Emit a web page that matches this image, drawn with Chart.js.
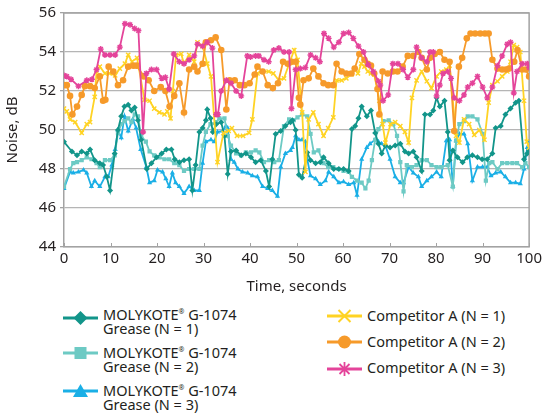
<!DOCTYPE html>
<html>
<head>
<meta charset="utf-8">
<script src="https://cdn.jsdelivr.net/npm/chart.js@4"></script>
<style>
  html, body { margin: 0; padding: 0; background: #fff; }
  #wrap { position: relative; width: 545px; height: 417px; font-family: "Noto Sans", "Open Sans", sans-serif; color: #231f20; }
  #chartBox { position: absolute; left: 0; top: 0; width: 545px; height: 300px; }
  .item { position: absolute; display: flex; align-items: flex-start; }
  .item svg { position: absolute; }
  .lbl { position: absolute; font-size: 14.5px; line-height: 14px; white-space: nowrap; }
  .lbl sup { font-size: 7px; vertical-align: 6px; line-height: 0; }
</style>
</head>
<body>
<div id="wrap">
  <div id="chartBox"><canvas id="c" width="545" height="300"></canvas></div>
</div>
<script>
// ---------- DATA ----------
const seriesNames = [
  "MOLYKOTE® G-1074 Grease (N = 1)",
  "MOLYKOTE® G-1074 Grease (N = 2)",
  "MOLYKOTE® G-1074 Grease (N = 3)",
  "Competitor A (N = 1)",
  "Competitor A (N = 2)",
  "Competitor A (N = 3)"
];
const xTickValues = [0, 10, 20, 30, 40, 50, 60, 70, 80, 90, 100];
const yTickValues = [44, 46, 48, 50, 52, 54, 56];

const m1Time  = [0,1.7,2.8,3.8,4.9,5.6,6.6,7.7,8.4,9.2,9.9,10.9,11.6,12.3,13,13.8,14.5,15.2,15.9,16.6,17.8,18.8,19.9,21,22,23.1,23.8,24.8,25.8,26.9,27.6,28.3,29.1,29.8,30.5,30.8,31.5,32,32.7,33.8,34.5,35.2,35.9,37,38.1,39.1,40.2,41.2,42.3,43.4,44.1,44.8,45.5,46.6,47.6,48.7,49.1,49.8,50.5,51.2,52.3,53,54.1,55.1,55.8,56.9,58,59.1,60.1,61.2,61.9,62.6,63.3,64,65.1,66,66.9,67.6,68.3,69.1,70.1,71.2,72.3,73.3,74.1,75.1,75.8,76.9,77.6,78.7,79.4,80.1,80.8,81.8,82.5,82.9,83.6,84.6,85.7,86.7,87.8,88.9,89.9,91,92.1,92.8,93.9,94.9,96,97.1,97.8,98.9,99.6,100];
const m1Noise = [49.4,48.9,48.7,48.9,48.8,49.0,48.45,48.3,48.2,47.6,46.9,48.8,50.0,50.7,51.2,51.3,51.0,51.15,50.5,49.5,48.0,48.3,48.6,48.8,49.0,49.0,48.5,48.35,48.45,48.5,46.9,48.2,49.9,50.1,50.5,51.05,50.6,49.9,50.3,50.4,49.7,47.75,48.9,48.95,48.7,48.8,48.6,48.35,48.45,47.9,47.1,48.5,49.8,49.95,50.2,50.4,50.5,50.0,47.7,47.55,48.85,48.45,48.3,48.35,48.6,48.3,48.0,48.0,48.0,47.9,50.05,50.2,50.6,51.2,50.7,51.0,49.85,49.3,48.8,49.2,49.1,49.2,49.3,48.9,48.8,48.9,48.6,47.9,50.8,50.8,51.0,51.65,51.2,51.5,49.9,48.45,48.95,48.6,48.35,48.6,48.7,48.6,48.5,48.5,48.8,50.1,50.2,50.8,51.1,51.4,51.5,48.5,48.8,48.95];

const m2Time  = [0,1.3,2,2.8,3.8,4.9,5.9,7,7.7,8.8,9.9,10.9,11.6,12.3,13,13.8,14.5,15.2,15.9,16.6,17.6,18.4,19.4,20.5,21.6,22.6,23.7,24.8,25.8,26.9,28,29.1,29.8,30.5,31.5,32.7,33.4,34.5,35.2,35.9,37,38.1,39.1,40.2,41.2,42,43,44.1,45.2,46.2,47.3,48.4,49.4,50.2,51.2,52.3,53,53.7,54.7,55.8,56.8,57.9,59,60.1,61.2,61.9,63,64,64.8,65.5,66.2,66.9,67.6,68.7,69.8,70.8,71.6,72.3,73,73.7,74.8,75.8,76.9,78,79,80.1,81.1,82.5,83.6,84.3,85,86,86.8,87.8,88.9,90,90.7,91.4,92.1,93.2,94.2,95.3,96.4,97.4,98.5,99.2,100];
const m2Noise = [47.1,48.0,48.3,48.35,48.45,48.6,48.5,48.3,48.1,48.45,48.45,48.7,49.85,50.3,50.45,50.6,50.4,50.8,50.7,49.7,49.4,48.9,48.7,48.6,48.5,48.5,48.3,48.2,47.9,48.0,48.0,48.0,49.2,49.9,50.3,50.4,50.6,50.6,49.7,49.2,48.8,48.7,48.85,48.85,48.95,48.85,48.35,48.45,48.35,48.45,50.2,50.55,50.5,50.65,50.8,50.7,49.8,48.85,48.95,48.3,48.1,48.1,48.0,47.9,47.85,47.6,47.4,47.3,47.0,47.4,48.45,49.5,50.05,50.45,50.5,50.3,49.7,48.35,46.85,48.2,48.1,48.2,48.45,48.45,48.2,48.1,48.1,48.2,47.1,49.45,50.3,50.45,50.7,50.7,50.55,49.8,47.4,48.3,48.35,48.0,48.3,48.3,48.3,48.3,48.1,48.3,48.1];

const m3Time  = [0,1.3,2,3.1,4.2,4.9,5.9,6.6,7.7,8.8,9.5,10.3,11,11.6,12.3,13,13.8,14.8,15.5,16.5,17.7,18.4,19.4,20.1,21.2,21.9,22.6,23.3,24,24.8,25.8,26.9,28,29.1,29.8,30.5,31.6,32.3,33,34.1,34.8,35.2,35.9,36.6,37.4,38.4,39.5,40.5,41.6,42.7,43.8,44.8,45.9,46.6,47.6,48.7,49.1,49.8,50.5,51.2,51.9,52.3,53,54.1,55.1,56.2,56.9,58,59.1,60.1,61.2,62.3,63,64,65.1,65.8,66.9,67.6,68.3,69.1,70.1,71.2,72.3,73,74.1,75.1,76.2,76.9,78,79,80.1,81.1,82.2,82.9,83.6,84.3,85,86,86.8,87.8,88.9,90,91,91.8,92.8,93.9,94.9,96,97.1,98.1,98.9,99.6,100];
const m3Noise = [47.0,47.85,47.8,47.85,47.95,47.8,47.1,47.4,47.1,47.6,47.6,48.2,49.0,50.0,49.6,50.7,49.95,50.55,50.1,49.0,48.1,47.3,47.4,47.95,47.85,47.5,47.1,47.8,47.3,47.1,46.75,47.1,46.9,46.9,48.3,49.4,49.5,49.4,49.9,49.95,50.2,50.1,48.5,48.35,48.0,47.85,47.8,47.65,47.6,47.1,47.0,46.9,46.6,48.1,48.8,48.95,49.1,49.7,49.5,49.5,49.4,48.5,47.65,47.5,47.2,47.4,47.85,47.6,47.3,47.35,47.2,47.3,46.65,48.5,49.1,49.3,49.5,49.4,49.3,49.2,48.5,47.6,47.3,47.3,48.1,47.8,47.6,47.1,47.4,47.6,47.85,47.6,49.45,49.5,47.1,49.45,49.8,49.8,49.3,47.4,48.1,48.1,48.1,47.65,47.8,47.85,47.6,47.3,47.3,47.25,48.0,49.1,49.4];

const c1Time  = [0,0.6,1.3,2.4,3.8,4.9,5.6,6.6,7,7.7,8.8,9.8,11,12,13.1,13.8,14.6,15.7,17.3,18.4,19.4,20.5,21.6,22.2,22.9,23.4,24.1,25.2,25.8,26.9,28,28.7,29.8,30.8,31.6,33,34.3,35.4,36.1,37.2,38.5,39.8,40.5,41.6,42.7,44,45,46.2,47.3,48.4,49.5,50.2,51.2,51.9,52.6,53.6,54.7,55.8,56.8,57.9,58.6,59.7,60.7,61.8,62.5,63.2,63.9,64.6,65.3,66,66.7,67.8,68.5,69.1,70.2,71.2,72.3,73.3,74.1,74.8,75.8,76.9,78,79,80.1,81.1,82.2,82.9,84.3,85,86,87.1,88.2,89.3,90.4,91.3,92.1,93.2,94.2,95.3,96,96.7,97.4,98.1,98.9,99.5,100];
const c1Noise = [51.1,50.95,50.55,50.4,49.85,50.3,50.4,51.7,53.0,53.25,52.9,52.9,52.8,53.15,53.4,53.85,53.5,53.7,51.55,51.5,51.1,50.9,50.8,50.95,50.6,52.0,53.85,53.9,53.4,53.85,53.5,54.5,54.3,53.4,52.75,48.35,49.85,49.95,50.1,49.7,49.7,49.85,50.55,52.9,53.0,53.0,52.9,52.55,52.65,53.4,54.1,53.6,50.9,47.85,50.55,50.9,50.3,49.7,50.1,50.65,52.55,52.55,52.65,52.85,53.15,52.9,53.4,53.25,53.0,52.9,52.85,51.5,50.3,49.35,50.3,50.4,50.2,49.9,49.35,51.65,52.55,53.0,52.5,52.15,52.75,53.0,53.1,53.3,49.7,49.35,50.55,50.3,49.75,50.0,49.5,51.4,52.3,52.5,52.75,53.0,53.5,54.35,54.25,54.0,51.5,49.4,49.1];

const c2Time  = [0,0.6,1.3,1.8,2.8,3.8,4.5,5.6,6.6,7.7,8.4,8.9,9.6,10.6,11.6,12.7,13.8,14.9,15.6,17.2,18.2,19.4,20.8,21.8,22.7,23.7,24.8,25.8,26.9,28,28.7,29.8,30.5,31.6,32.6,33.8,34.9,35.6,36.7,37.8,38.8,39.9,41,41.6,42.7,43.8,44.9,46,47.1,48.1,49,49.8,50.5,50.8,51.5,52.6,53.6,54.7,55.8,56.8,57.9,58.6,59.7,60.7,61.8,62.5,63.5,64.6,65.3,66,66.7,67.4,67.8,68.5,69.6,70.7,71.7,72.8,73.9,75.1,76.2,76.9,78,78.7,79.7,80.8,81.8,82.9,83.9,84.9,85.6,86.6,87.4,88.4,89.5,90.5,91.3,92.1,93.2,94.2,95,95.7,96.8,97.5,98.5,99.3,100];
const c2Noise = [52.3,52.3,51.75,50.8,51.2,51.8,52.25,52.25,52.15,52.75,51.5,51.55,53.25,53.0,52.3,52.55,53.25,53.3,53.3,52.75,52.55,52.0,52.2,52.0,51.2,51.75,52.4,50.9,53.1,53.25,53.0,53.4,54.5,54.6,54.75,54.1,51.05,52.55,52.55,52.3,52.3,52.4,52.85,53.25,53.0,52.3,52.15,52.4,53.5,53.4,53.5,53.5,51.65,51.3,52.55,52.65,53.15,52.75,52.4,52.3,52.3,53.4,53.0,52.9,52.9,53.15,53.9,53.6,53.4,53.3,52.9,52.1,50.8,53.0,52.9,53.0,53.0,53.25,53.8,53.8,54.0,53.7,53.1,53.7,53.9,54.0,53.6,53.5,49.95,53.25,53.7,54.7,54.95,54.95,54.95,54.95,54.95,53.6,53.15,53.1,53.1,53.15,53.5,54.1,53.1,53.1,52.75];

const c3Time  = [0,0.6,1.5,3.1,4.9,6,7,7.9,8.8,9.9,11,12,13.1,14.2,15.2,16,17,17.7,18.8,19.9,21,21.8,22.6,23.6,24.8,25.8,26.9,28,28.7,29.8,30.8,31.9,32.7,33.1,33.8,34.9,35.9,37,38.1,39.4,40.1,41.2,41.9,43,44,45.1,46.2,47.3,48.4,48.9,49.8,50.8,51.9,53,54.1,55,55.9,56.9,58,59.1,60.1,61.2,62.2,63.3,64.4,65.4,66.5,67.6,68,68.6,69.7,70.7,71.8,72.9,73.9,75.1,75.8,76.9,78,78.7,79.4,80.1,80.8,81.5,82.5,83.2,83.9,85,86,86.8,87.8,88.9,90,91,92.1,93.2,94.2,95.3,96,96.7,97.4,98.5,99.6,100];
const c3Noise = [52.8,52.75,52.6,52.25,52.55,52.6,53.1,54.15,53.85,53.85,53.85,54.25,55.45,55.4,55.2,55.1,49.9,52.9,53.1,53.1,52.65,52.7,52.1,53.9,53.5,53.4,53.6,53.8,54.4,54.3,54.5,54.2,50.8,50.8,52.0,52.55,52.4,52.0,51.75,53.8,53.75,53.8,53.8,53.6,53.5,54.1,54.2,54.0,54.0,51.1,53.1,53.15,53.2,53.85,53.7,53.5,54.95,54.7,54.25,54.5,54.95,55.0,54.7,54.3,54.0,53.35,53.0,52.5,52.3,51.5,51.8,53.4,53.4,53.1,52.7,53.1,54.25,53.7,53.5,54.0,54.0,51.75,52.3,52.9,53.0,52.65,51.65,51.5,51.8,52.2,52.4,52.75,52.2,51.65,52.2,53.3,53.8,54.4,54.5,51.9,53.0,53.4,53.4,53.2];

// ---------- STYLE ----------
const colors = ["#12958a", "#6dcac4", "#1aafe6", "#ffd324", "#f69a2a", "#e4449a"];
const styles = ["rectRot", "rect", "triangle", "crossRot", "circle", "star"];
const radii  = [3, 3, 3, 3, 3.3, 3];

const pairs = (t, v) => t.map((x, i) => ({ x: x, y: v[i] }));
const seriesData = [
  pairs(m1Time, m1Noise), pairs(m2Time, m2Noise), pairs(m3Time, m3Noise),
  pairs(c1Time, c1Noise), pairs(c2Time, c2Noise), pairs(c3Time, c3Noise)
];
// drawing order: lower 'order' is drawn on top
const drawOrder = [3, 4, 5, 2, 1, 0];

const datasets = seriesData.map((d, i) => ({
  label: seriesNames[i],
  data: d,
  borderColor: colors[i],
  backgroundColor: colors[i],
  borderWidth: 1.8,
  pointStyle: styles[i],
  pointRadius: radii[i],
  pointBorderWidth: (styles[i] === "crossRot" || styles[i] === "star") ? 1.4 : 0,
  pointBorderColor: colors[i],
  pointBackgroundColor: colors[i],
  tension: 0,
  order: drawOrder[i]
}));

const frameColor = "#a3a3a3";
const framePlugin = {
  id: "frame",
  beforeDatasetsDraw(chart) {
    const { ctx, chartArea: a, scales } = chart;
    ctx.save();
    ctx.strokeStyle = frameColor;
    ctx.lineWidth = 1.5;
    ctx.beginPath();
    ctx.moveTo(a.left, a.top); ctx.lineTo(a.right, a.top); ctx.lineTo(a.right, a.bottom);
    ctx.stroke();
    ctx.lineWidth = 1;
    scales.x.ticks.forEach(t => {
      const px = Math.round(scales.x.getPixelForValue(t.value)) + 0.5;
      ctx.beginPath(); ctx.moveTo(px, a.bottom); ctx.lineTo(px, a.bottom - 4); ctx.stroke();
    });
    ctx.restore();
  }
};

const tickFont = { family: "'Noto Sans', 'Open Sans', sans-serif", size: 15 };
new Chart(document.getElementById("c"), {
  type: "line",
  data: { datasets },
  options: {
    responsive: false,
    animation: false,
    devicePixelRatio: 1,
    layout: { padding: { left: 0, right: 14, top: 9, bottom: 0 } },
    plugins: { legend: { display: false }, tooltip: { enabled: false } },
    scales: {
      x: {
        type: "linear", min: 0, max: 100,
        afterBuildTicks: s => { s.ticks = xTickValues.map(v => ({ value: v })); },
        afterFit: s => { s.height = 53; },
        grid: { display: false, drawTicks: false },
        border: { display: true, color: frameColor, width: 1.5 },
        ticks: { color: "#231f20", font: tickFont, padding: 3, maxRotation: 0 },
        title: { display: true, text: "Time, seconds", color: "#231f20", font: tickFont, padding: { top: 4, bottom: 4 } }
      },
      y: {
        min: 44, max: 56,
        afterBuildTicks: s => { s.ticks = yTickValues.map(v => ({ value: v })); },
        afterFit: s => { s.width = 64; },
        grid: { color: "#b5b5b5", lineWidth: 1.3, tickLength: 4, drawTicks: true, tickColor: frameColor },
        border: { display: true, color: frameColor, width: 1.5 },
        ticks: { color: "#231f20", font: tickFont, padding: 4 },
        title: { display: true, text: "Noise, dB", color: "#231f20", font: tickFont, padding: { top: 4, bottom: 4 } }
      }
    }
  },
  plugins: [framePlugin]
});

// ---------- HTML LEGEND ----------
function markerSvg(style, color) {
  const line = `<line x1="0" y1="8" x2="35" y2="8" stroke="${color}" stroke-width="3"/>`;
  let m = "";
  if (style === "rectRot") m = `<polygon points="17.5,1 24.5,8 17.5,15 10.5,8" fill="${color}"/>`;
  if (style === "rect") m = `<rect x="11.5" y="2" width="12" height="12" fill="${color}"/>`;
  if (style === "triangle") m = `<polygon points="17.5,1 25,14 10,14" fill="${color}"/>`;
  if (style === "crossRot") m = `<path d="M11.5 2 L23.5 14 M23.5 2 L11.5 14" stroke="${color}" stroke-width="2"/>`;
  if (style === "circle") m = `<circle cx="17.5" cy="8" r="6.5" fill="${color}"/>`;
  if (style === "star") m = `<path d="M17.5 1 V15 M10.5 8 H24.5 M12.5 3 L22.5 13 M22.5 3 L12.5 13" stroke="${color}" stroke-width="1.8"/>`;
  return `<svg width="35" height="16" viewBox="0 0 35 16">${line}${m}</svg>`;
}
const legendPos = [
  { ix: 63, iy: 309, tx: 103, ty: 307, two: true },
  { ix: 63, iy: 344, tx: 103, ty: 345, two: true },
  { ix: 63, iy: 382, tx: 103, ty: 383, two: true },
  { ix: 327, iy: 307, tx: 367, ty: 308, two: false },
  { ix: 327, iy: 333, tx: 367, ty: 334, two: false },
  { ix: 327, iy: 360, tx: 367, ty: 360, two: false }
];
const wrap = document.getElementById("wrap");
seriesNames.forEach((name, i) => {
  const p = legendPos[i];
  const ic = document.createElement("div");
  ic.style.cssText = `position:absolute;left:${p.ix}px;top:${p.iy}px;width:35px;height:16px;`;
  ic.innerHTML = markerSvg(styles[i], colors[i]);
  wrap.appendChild(ic);
  const t = document.createElement("div");
  t.className = "lbl";
  t.style.left = p.tx + "px"; t.style.top = p.ty + "px";
  if (p.two) {
    t.innerHTML = "MOLYKOTE<sup>®</sup> G-1074<br>" + name.replace("MOLYKOTE® G-1074 ", "");
  } else {
    t.textContent = name;
  }
  wrap.appendChild(t);
});
</script>
</body>
</html>
